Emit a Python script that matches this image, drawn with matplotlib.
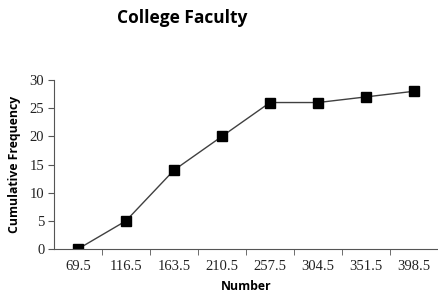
import numpy as np
from matplotlib import pyplot as plt

## donnees
categories = ['69.5', '116.5', '163.5', '210.5', '257.5', '304.5', '351.5', '398.5']
cumul = [0, 5, 14, 20, 26, 26, 27, 28]

## figure
fig = plt.figure(figsize=(4.38, 2.99), dpi=100)
ax = fig.add_axes([54/438, 50/299, 384/438, 169/299])

x = np.arange(len(categories))
ax.plot(x, cumul, color='#404040', linewidth=1, marker='s', markersize=6.5,
        markerfacecolor='black', markeredgecolor='black')

ax.set_xlim(-0.5, len(categories) - 0.5)
ax.set_ylim(0, 30)
ax.set_yticks([0, 5, 10, 15, 20, 25, 30])
ax.set_xticks(x)
ax.set_xticklabels(categories)
ax.set_xticks(np.arange(0.5, len(categories), 1), minor=True)

serif = 'Liberation Serif'
for lab in ax.get_xticklabels() + ax.get_yticklabels():
    lab.set_fontfamily(serif)
    lab.set_fontsize(10.5)
    lab.set_color('#222222')

ax.tick_params(axis='x', which='major', length=0, pad=8)
ax.tick_params(axis='x', which='minor', length=4, direction='out', color='#555555')
ax.tick_params(axis='y', length=4, direction='out', color='#555555', pad=3)

for s in ['top', 'right']:
    ax.spines[s].set_visible(False)
for s in ['left', 'bottom']:
    ax.spines[s].set_color('#555555')
    ax.spines[s].set_linewidth(0.8)

ax.set_xlabel('Number', fontsize=8.8, fontweight='bold', family='Open Sans', labelpad=5)
ax.set_ylabel('Cumulative Frequency', fontsize=8.8, fontweight='bold', family='Open Sans', labelpad=6)

fig.text(182/438, 1 - 18/299, 'College Faculty', ha='center', va='center',
         fontsize=12.5, fontweight='bold', family='Open Sans')

fig.savefig('out.png', dpi=100)
